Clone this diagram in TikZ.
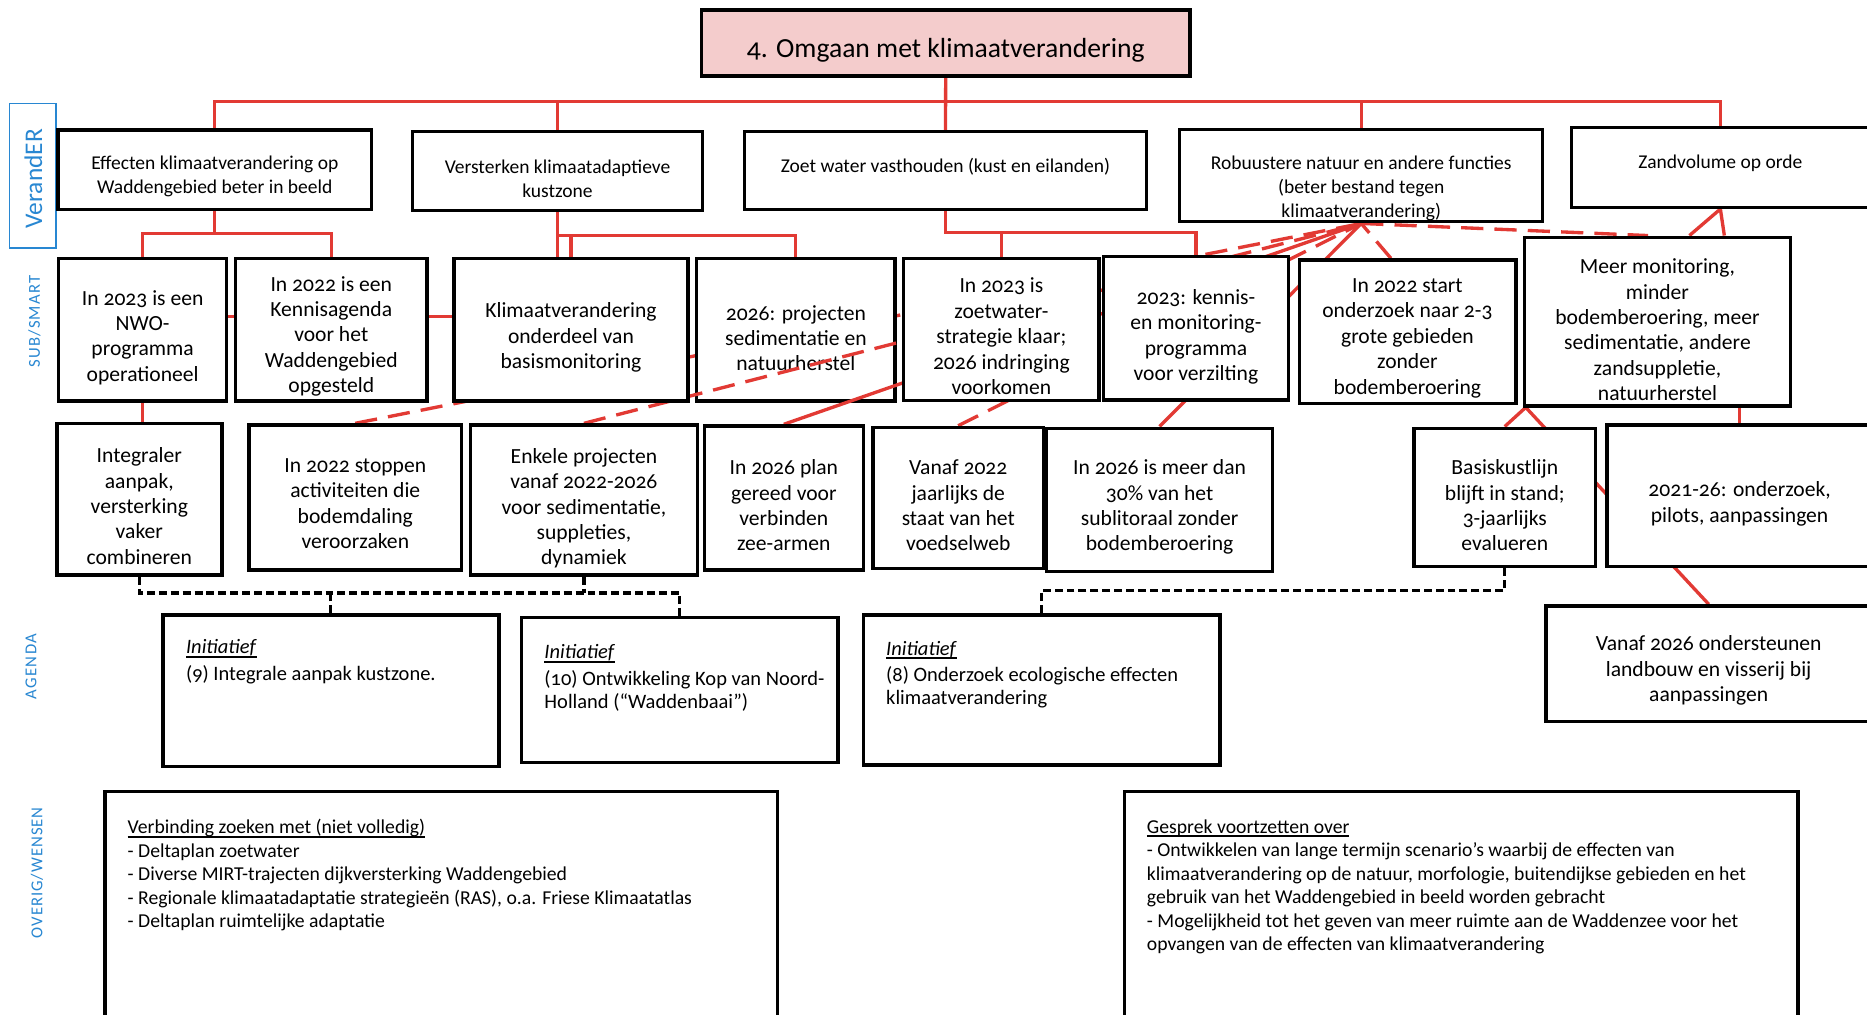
\documentclass[tikz,border=0pt]{standalone}
\usepackage{fontspec}
\setmainfont{Carlito}[Numbers=OldStyle]
\newsavebox\ulbox
\newcommand\myul[1]{\sbox\ulbox{#1}\rlap{\rule[-2.6pt]{\wd\ulbox}{1.2pt}}\usebox\ulbox}
\definecolor{rln}{RGB}{226,58,52}
\definecolor{lblue}{RGB}{40,135,210}
\definecolor{tpink}{RGB}{244,204,204}
\pgfdeclarelayer{bg}
\pgfsetlayers{bg,main}
\tikzset{
 box/.style={draw=black, line width=2.2pt, fill=white, inner sep=0pt, rectangle},
 rl/.style={draw=rln, line width=2.1pt},
 rd/.style={draw=rln, line width=2.1pt, dash pattern=on 14pt off 7pt},
 kd/.style={draw=black, line width=2pt, dash pattern=on 5pt off 2.5pt},
 tA/.style={align=center, font=\fontsize{12.3}{15}\selectfont, inner sep=0pt},
 tB/.style={align=center, font=\fontsize{13.6}{16}\selectfont, inner sep=0pt},
 tC/.style={align=left, font=\fontsize{12.9}{14.7}\selectfont, inner sep=0pt, anchor=north west},
 tD/.style={align=left, font=\fontsize{12.4}{14.8}\selectfont, inner sep=0pt, anchor=north west},
 lbl/.style={text=lblue, rotate=90, inner sep=0pt},
}
\newcommand\bx[6][]{%
 \pgfmathsetmacro\bxw{(#5-#3)*0.75}%
 \pgfmathsetmacro\bxh{(#6-#4)*0.75}%
 \node[box,#1,minimum width=\bxw pt,minimum height=\bxh pt] (#2) at ({(#3+#5)/2},{(#4+#6)/2}) {};%
}
\begin{document}
\begin{tikzpicture}[x=0.75pt,y=-0.75pt]
\useasboundingbox (0,0) rectangle (1568,852);
\clip (0,0) rectangle (1568,852);

% side labels
\bx[draw=lblue, line width=1.1pt, fill=none]{vlbox}{8}{87}{47}{208}
\node[lbl, font=\fontsize{16}{16}\selectfont] (vl) at (28,150) {VerandER};
\node[lbl, font=\fontsize{10.5}{10.5}\selectfont\addfontfeatures{LetterSpace=7}] (sl) at (29,270) {SUB/SMART};
\node[lbl, font=\fontsize{10.5}{10.5}\selectfont\addfontfeatures{LetterSpace=9}] (al) at (26,560) {AGENDA};
\node[lbl, font=\fontsize{10.5}{10.5}\selectfont\addfontfeatures{LetterSpace=6}] (ol) at (31,733) {OVERIG/WENSEN};

% title
\bx[fill=tpink]{title}{589}{8.5}{999.5}{63.8}
\node[font=\fontsize{17.4}{20}\selectfont, inner sep=0pt] (title-t) at (794.3,42) {4. Omgaan met klimaatverandering};

% level 1
\bx{b1}{48.8}{109}{312}{175.8}
\bx{b2}{346.4}{110.6}{590}{177}
\bx{b3}{625.3}{110.6}{962.8}{175.8}
\bx{b4}{990.8}{108.6}{1295.6}{186.2}
\bx{b5}{1319.7}{107.2}{1570}{174.1}
\node[tA] (b1-t) at (180.4,148) {Effecten klimaatverandering op\\Waddengebied beter in beeld};
\node[tA] (b2-t) at (468.2,150) {Versterken klimaatadaptieve\\kustzone};
\node[tA] (b3-t) at (794,140) {Zoet water vasthouden (kust en eilanden)};
\node[tA] (b4-t) at (1143.2,158) {Robuustere natuur en andere functies\\(beter bestand tegen\\klimaatverandering)};
\node[tA] (b5-t) at (1444.8,137) {Zandvolume op orde};

% level 2
\bx{a}{49.3}{217}{190.3}{336.8}
\bx{b}{197.9}{217}{358.5}{336.8}
\bx{c}{381.1}{217}{578}{336.8}
\bx{d}{585}{217}{751.7}{336.8}
\bx{e}{758.8}{217}{923.1}{336.5}
\bx{f}{926.6}{215.6}{1082.2}{336}
\bx{g}{1091.3}{218.4}{1273}{338.7}
\bx{h}{1280.5}{199.3}{1503.9}{341}
\node[tB] (a-t) at (119.8,283.5) {In 2023 is een\\NWO-\\programma\\operationeel};
\node[tB] (b-t) at (278.2,282.5) {In 2022 is een\\Kennisagenda\\voor het\\Waddengebied\\opgesteld};
\node[tB] (c-t) at (479.5,283.5) {Klimaatverandering\\onderdeel van\\basismonitoring};
\node[tB] (d-t) at (668.4,284) {2026: projecten\\sedimentatie en\\natuurherstel};
\node[tB] (e-t) at (841,282.5) {In 2023 is\\zoetwater-\\strategie klaar;\\2026 indringing\\voorkomen};
\node[tB] (f-t) at (1004.4,283) {2023: kennis-\\en monitoring-\\programma\\voor verzilting};
\node[tB] (g-t) at (1182,284) {In 2022 start\\onderzoek naar 2-3\\grote gebieden\\zonder\\bodemberoering};
\node[tB] (h-t) at (1392,277) {Meer monitoring,\\minder\\bodemberoering, meer\\sedimentatie, andere\\zandsuppletie,\\natuurherstel};

% level 3
\bx{i}{47.8}{355.5}{186.3}{482.9}
\bx{j}{209}{357}{387.7}{478.7}
\bx{k}{395.2}{357}{585.6}{482.9}
\bx{l}{591.6}{357.8}{725}{478.7}
\bx{m}{733}{359}{876.5}{477.5}
\bx{n}{879}{359.7}{1068.7}{480}
\bx{o}{1187.7}{359.7}{1339.8}{475.9}
\bx{p}{1349.8}{357}{1572}{475.9}
\node[tB] (i-t) at (117,425) {Integraler\\aanpak,\\versterking\\vaker\\combineren};
\node[tB] (j-t) at (298.4,423) {In 2022 stoppen\\activiteiten die\\bodemdaling\\veroorzaken};
\node[tB] (k-t) at (490.4,427) {Enkele projecten\\vanaf 2022-2026\\voor sedimentatie,\\suppleties,\\dynamiek};
\node[tB] (l-t) at (658.3,424.5) {In 2026 plan\\gereed voor\\verbinden\\zee-armen};
\node[tB] (m-t) at (804.8,424.5) {Vanaf 2022\\jaarlijks de\\staat van het\\voedselweb};
\node[tB] (n-t) at (973.9,426) {In 2026 is meer dan\\30\% van het\\sublitoraal zonder\\bodemberoering};
\node[tB] (o-t) at (1263.8,424.5) {Basiskustlijn\\blijft in stand;\\3-jaarlijks\\evalueren};
\node[tB] (p-t) at (1461,423) {2021-26: onderzoek,\\pilots, aanpassingen};

% agenda
\bx{q}{136.9}{516.5}{418.9}{643.9}
\bx{r}{438}{518.5}{703.9}{640.5}
\bx{s}{725}{516.5}{1024.5}{642.5}
\bx{t}{1298.2}{509}{1572}{606.1}
\node[tC] (q-t) at (156,537) {\myul{\textit{Initiatief}}\\[2pt](9) Integrale aanpak kustzone.};
\node[tC] (r-t) at (457,541) {\myul{\textit{Initiatief}}\\[2pt](10) Ontwikkeling Kop van Noord-\\Holland (“Waddenbaai”)};
\node[tC] (s-t) at (744,538) {\myul{\textit{Initiatief}}\\[2pt](8) Onderzoek ecologische effecten\\klimaatverandering};
\node[tB] (t-t) at (1435,563) {Vanaf 2026 ondersteunen\\landbouw en visserij bij\\aanpassingen};

% overig
\bx{u}{88.1}{664.9}{653}{880}
\bx{v}{944.2}{664.9}{1510}{880}
\node[tD] (u-t) at (107,688) {\myul{Verbinding zoeken met (niet volledig)}\\- Deltaplan zoetwater\\- Diverse MIRT-trajecten dijkversterking Waddengebied\\- Regionale klimaatadaptatie strategieën (RAS), o.a. Friese Klimaatatlas\\- Deltaplan ruimtelijke adaptatie};
\node[tD] (v-t) at (963,688) {\myul{Gesprek voortzetten over}\\- Ontwikkelen van lange termijn scenario’s waarbij de effecten van\\klimaatverandering op de natuur, morfologie, buitendijkse gebieden en het\\gebruik van het Waddengebied in beeld worden gebracht\\- Mogelijkheid tot het geven van meer ruimte aan de Waddenzee voor het\\opvangen van de effecten van klimaatverandering};

% connectors (behind boxes)
\coordinate (bus1) at (0,85.4);
\coordinate (bus2) at (0,196);
\coordinate (bus3) at (0,198);
\coordinate (bus4) at (0,195);
\coordinate (bus5) at (0,498);
\coordinate (bus6) at (0,496);
\begin{pgfonlayer}{bg}
\fill[white] (0,0) rectangle (1568,852);
\draw[rl] (title.south) -- (b3.north);
\draw[rl] (b1.north) -- (b1.north |- bus1) -- (b5.north |- bus1) -- (b5.north);
\draw[rl] (b2.north) -- (b2.north |- bus1);
\draw[rl] (b4.north) -- (b4.north |- bus1);
% from b1
\draw[rl] (b1.south) -- (b1.south |- bus2);
\draw[rl] (a.north) -- (a.north |- bus2) -- (b.north |- bus2) -- (b.north);
\draw[rl] ([yshift=8.25pt]a.east) -- ([yshift=8.25pt]c.west);
\draw[rl] (a.south) -- (a.south |- i.north);
% from b2
\draw[rl] (b2.south) -- (b2.south |- c.north);
\draw[rl] (b2.south |- bus3) -- (d.north |- bus3) -- (d.north);
\draw[rl] (c.north) -- (c.north |- bus3);
% from b3
\draw[rl] (b3.south) -- (b3.south |- bus4) -- (f.north |- bus4) -- (f.north);
\draw[rl] (e.north) -- (e.north |- bus4);
% from b4
\draw[rd] (j.north) -- (b4.south);
\draw[rd] (k.north) -- (b4.south);
\draw[rl] (l.north) -- (b4.south);
\draw[rd] (m.north) -- (b4.south);
\draw[rl] (n.north) -- (b4.south);
\draw[rd] ([xshift=-10.5pt]g.north) -- (b4.south);
\draw[rd] (b4.south) -- ([xshift=-6pt]h.north);
% from b5
\draw[rl] (b5.south) -- ([xshift=20pt]h.north);
\draw[rl] (b5.south) -- ([xshift=42pt]h.north);
% from h
\draw[rl] ([xshift=1.5pt]h.south west) -- (o.north);
\draw[rl] ([xshift=2pt]h.south west) -- (t.north);
\draw[rl] (p.north) -- (p.north |- h.south);
% agenda links
\draw[kd] (i.south) -- (i.south |- bus5) -- (r.north |- bus5) -- (r.north);
\draw[kd] (k.south) -- (k.south |- bus5);
\draw[kd] (q.north) -- (q.north |- bus5);
\draw[kd] (o.south) -- (o.south |- bus6) -- (s.north |- bus6) -- (s.north);
\end{pgfonlayer}

% lines drawn over box d
\begin{scope}
\clip (d.south west) rectangle (d.north east);
\draw[rd] (k.north) -- (b4.south);
\draw[rl] (l.north) -- (b4.south);
\end{scope}
\end{tikzpicture}
\end{document}
